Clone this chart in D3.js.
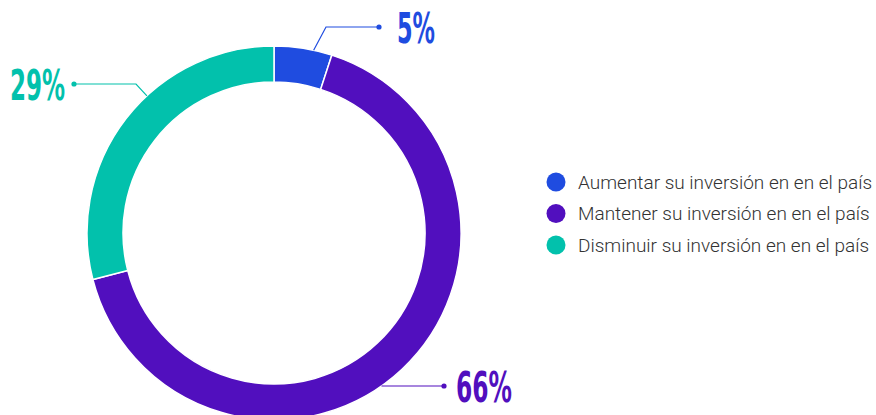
<!DOCTYPE html>
<html>
<head>
<meta charset="utf-8">
<script src="https://cdn.jsdelivr.net/npm/d3@7"></script>
<style>
  body { margin: 0; background: #fff; }
  svg { display: block; }
  .legend text { font-family: "Roboto", "Liberation Sans", sans-serif; font-weight: 300; font-size: 19px; fill: #333333; }
  .pct { font-family: "Liberation Sans Narrow", "DejaVu Sans Condensed", sans-serif; font-weight: bold; }
</style>
</head>
<body>
<svg id="chart" width="876" height="415"></svg>
<script>
// ----- DATA -----
var categories = [
    "Aumentar su inversión en en el país",
    "Mantener su inversión en en el país",
    "Disminuir su inversión en en el país"
];
var values = [5, 66, 29];
var labels = ["5%", "66%", "29%"];
var colors = ["#1f4ce0", "#510fbe", "#02c1ac"];

var svg = d3.select("#chart");
var cx = 274, cy = 233;
var outerR = 187, innerR = 151;

var pie = d3.pie().sort(null).value(function(d) { return d; });
var arc = d3.arc().innerRadius(innerR).outerRadius(outerR);
var arcs = pie(values);

var g = svg.append("g").attr("transform", "translate(" + cx + "," + cy + ")");

// ----- SLICES -----
g.selectAll("path.slice")
    .data(arcs)
    .enter().append("path")
    .attr("class", "slice")
    .attr("d", arc)
    .style("fill", function(d, i) { return colors[i]; })
    .attr("stroke", "#ffffff")
    .attr("stroke-width", 1.5);

// ----- LEADER LINES -----
// where each line leaves the ring (fraction across slice) and where it bends
var leaders = [
    { t: 0.68, elbow: [326, 27], dot: [379, 27], text: [397, 43], w: 38 },
    { t: null, elbow: null, dot: [444, 386], text: [456, 402], w: 56 },
    { t: 0.59, elbow: [136, 84], dot: [74, 84], text: [10, 100], w: 55 }
];

function pointOnRing(a) {
    return [cx + outerR * Math.sin(a), cy - outerR * Math.cos(a)];
}

arcs.forEach(function(d, i) {
    var L = leaders[i];
    var pts;
    if (L.t === null) {
        // horizontal line out of the ring at the dot's height
        var dy = L.dot[1] - cy;
        var sx = cx + Math.sqrt(outerR * outerR - dy * dy);
        pts = [[sx, L.dot[1]], L.dot];
    } else {
        var a = d.startAngle + (d.endAngle - d.startAngle) * L.t;
        pts = [pointOnRing(a), L.elbow, L.dot];
    }
    svg.append("path")
        .attr("d", d3.line()(pts))
        .attr("fill", "none")
        .attr("stroke", colors[i])
        .attr("stroke-width", 1.2);
    svg.append("circle")
        .attr("cx", L.dot[0])
        .attr("cy", L.dot[1])
        .attr("r", 2.6)
        .style("fill", colors[i]);
    svg.append("text")
        .attr("class", "pct")
        .attr("x", L.text[0])
        .attr("y", L.text[1])
        .attr("font-size", 42)
        .attr("textLength", L.w)
        .attr("lengthAdjust", "spacingAndGlyphs")
        .style("fill", colors[i])
        .text(labels[i]);
});

// ----- LEGEND -----
var legend = svg.append("g").attr("class", "legend");
var item = legend.selectAll("g")
    .data(categories)
    .enter().append("g")
    .attr("transform", function(d, i) { return "translate(556," + (182 + i * 31.5) + ")"; });

item.append("circle")
    .attr("r", 9.5)
    .style("fill", function(d, i) { return colors[i]; });

item.append("text")
    .attr("x", 22)
    .attr("y", 6.5)
    .text(function(d) { return d; });
</script>
</body>
</html>
